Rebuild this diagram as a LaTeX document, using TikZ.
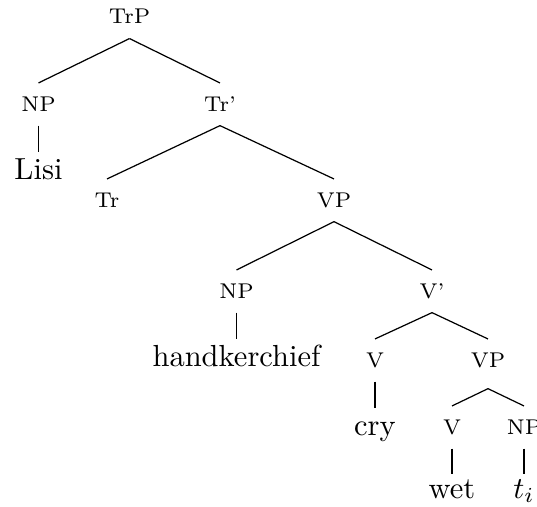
\documentclass[tikz,border=0pt]{standalone}
\begin{document}
\begin{tikzpicture}[x=0.328pt,y=-0.328pt,
  cat/.style={font=\scriptsize,anchor=base,inner sep=0pt,text height=9pt,text depth=4.6pt},
  leaf/.style={font=\normalsize,anchor=base,inner sep=0pt,text height=8.5pt,text depth=0pt},
  edge/.style={draw,line width=0.4pt}]
\useasboundingbox (0,0) rectangle (537,506);
\node[cat,text depth=4.9pt] (trp) at (129.5,23) {TrP};
\node[cat] (np1) at (38.5,111) {NP};
\node[cat] (trbar) at (220,111) {Tr'};
\node[leaf] (lisi) at (38.5,179) {Lisi};
\node[cat] (tr) at (107,207) {Tr};
\node[cat] (vp1) at (334,207) {VP};
\node[cat] (np2) at (236.5,298) {NP};
\node[cat] (vbar) at (432,298) {V'};
\node[leaf] (hk) at (236.5,366) {handkerchief};
\node[cat] (v1) at (375,367) {V};
\node[cat,text depth=6.9pt] (vp2) at (488,367) {VP};
\node[leaf] (cry) at (375,435) {cry};
\node[cat] (v2) at (452,434) {V};
\node[cat] (np3) at (524,434) {NP};
\node[leaf,text height=7.6pt] (wet) at (452,498) {wet};
\node[leaf,text height=7.6pt] (ti) at (524,498) {$t_i$};
\draw[edge] (trp.south) -- (np1.north);
\draw[edge] (trp.south) -- (trbar.north);
\draw[edge] (np1.south) -- (lisi.north);
\draw[edge] (trbar.south) -- (tr.north);
\draw[edge] (trbar.south) -- (vp1.north);
\draw[edge] (vp1.south) -- (np2.north);
\draw[edge] (vp1.south) -- (vbar.north);
\draw[edge] (np2.south) -- (hk.north);
\draw[edge] (vbar.south) -- (v1.north);
\draw[edge] (vbar.south) -- (vp2.north);
\draw[edge] (v1.south) -- (cry.north);
\draw[edge] (vp2.south) -- (v2.north);
\draw[edge] (vp2.south) -- (np3.north);
\draw[edge] (v2.south) -- (wet.north);
\draw[edge] (np3.south) -- (ti.north);
\end{tikzpicture}
\end{document}
